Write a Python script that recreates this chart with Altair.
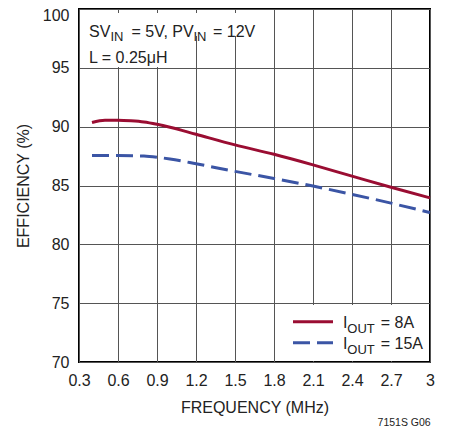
import altair as alt
import pandas as pd

FONT = "Liberation Sans Narrow, Liberation Sans, sans-serif"

# --- data ---
freq_8A = [0.4, 0.5, 0.6, 0.7, 0.8, 0.9, 1.0, 1.2, 1.5, 1.8, 2.1, 2.4, 2.7, 3.0]
eff_8A = [90.35, 90.55, 90.55, 90.5, 90.4, 90.2, 89.95, 89.35, 88.45, 87.65, 86.75, 85.8, 84.85, 83.95]
freq_15A = [0.4, 0.6, 0.8, 0.9, 1.0, 1.2, 1.5, 1.8, 2.1, 2.4, 2.7, 3.0]
eff_15A = [87.55, 87.55, 87.5, 87.4, 87.25, 86.85, 86.2, 85.6, 84.95, 84.25, 83.5, 82.7]

x_ticks = [0.3, 0.6, 0.9, 1.2, 1.5, 1.8, 2.1, 2.4, 2.7, 3.0]
y_ticks = [70, 75, 80, 85, 90, 95, 100]

RED = "#9a0d32"
BLUE = "#3b55a5"

df8 = pd.DataFrame({"f": freq_8A, "e": eff_8A})
df15 = pd.DataFrame({"f": freq_15A, "e": eff_15A})

xs = alt.Scale(domain=[0.3, 3.0], nice=False, zero=False)
ys = alt.Scale(domain=[70, 100], nice=False, zero=False)

xaxis = alt.Axis(values=x_ticks, title="FREQUENCY (MHz)",
                 labelExpr="datum.value == 3 ? '3' : format(datum.value, '.1f')",
                 labelOverlap=False, labelFlush=False, labelSeparation=0,
                 ticks=False, domain=False, grid=True, labelPadding=10, titlePadding=11)
yaxis = alt.Axis(values=y_ticks, title="EFFICIENCY (%)", ticks=False, domain=False,
                 labelOverlap=False, labelFlush=False,
                 labelOffset={"condition": {"test": "datum.value == 100", "value": 6}, "value": 0},
                 grid=True, labelPadding=10, titlePadding=11)

line8 = alt.Chart(df8).mark_line(color=RED, strokeWidth=3, interpolate="monotone").encode(
    x=alt.X("f:Q", scale=xs, axis=xaxis),
    y=alt.Y("e:Q", scale=ys, axis=yaxis),
)
line15 = alt.Chart(df15).mark_line(color=BLUE, strokeWidth=3, strokeDash=[17, 7],
                                    interpolate="monotone").encode(
    x=alt.X("f:Q", scale=xs, axis=xaxis),
    y=alt.Y("e:Q", scale=ys, axis=yaxis),
)

one = pd.DataFrame({"a": [0]})

def txt(s, x, y, size=16, align="left"):
    return alt.Chart(one).mark_text(text=s, font=FONT, fontSize=size, align=align,
                                    baseline="alphabetic", color="#222").encode(
        x=alt.value(x), y=alt.value(y))

def white(x, x2, y, y2):
    return alt.Chart(one).mark_rect(color="white").encode(
        x=alt.value(x), x2=alt.value(x2), y=alt.value(y), y2=alt.value(y2))

legend_box = white(200, 350, 296, 352)
note_box1 = white(1, 179, 4, 27)
note_box2 = white(1, 101, 27, 58)
leg_line8 = alt.Chart(one).mark_rule(color=RED, strokeWidth=3).encode(
    x=alt.value(214), x2=alt.value(254), y=alt.value(312.7))
leg_line15 = alt.Chart(one).mark_rule(color=BLUE, strokeWidth=3, strokeDash=[17, 7]).encode(
    x=alt.value(214), x2=alt.value(254), y=alt.value(333.7))

texts = [
    txt("SV", 10, 27.7), txt("IN", 31.5, 32, 13), txt("= 5V, PV", 52.5, 27.7),
    txt("IN", 114.5, 32, 13), txt("= 12V", 134, 27.7),
    txt("L = 0.25μH", 10, 54.3),
    txt("I", 264, 319.3), txt("OUT", 268.3, 324.3, 13), txt("= 8A", 301.7, 319.3),
    txt("I", 264, 340.3), txt("OUT", 268.3, 345.3, 13), txt("= 15A", 301.7, 340.3),
    txt("7151S G06", 351.7, 416.5, 10.5, "right"),
]

chart = alt.layer(line8, line15, legend_box, note_box1, note_box2,
                  leg_line8, leg_line15, *texts).properties(
    width=351, height=353,
    autosize=alt.AutoSizeParams(type="none"),
    padding={"left": 71, "top": 1, "right": 15, "bottom": 70},
).configure_view(stroke="black", strokeWidth=2).configure_axis(
    gridColor="#555", gridWidth=1, labelFont=FONT, titleFont=FONT,
    labelFontSize=16, titleFontSize=16, titleFontWeight="normal", labelColor="#222",
    titleColor="#222", labelOverlap=False,
)

chart.save("out.html", embed_options={"renderer": "svg", "actions": False})
